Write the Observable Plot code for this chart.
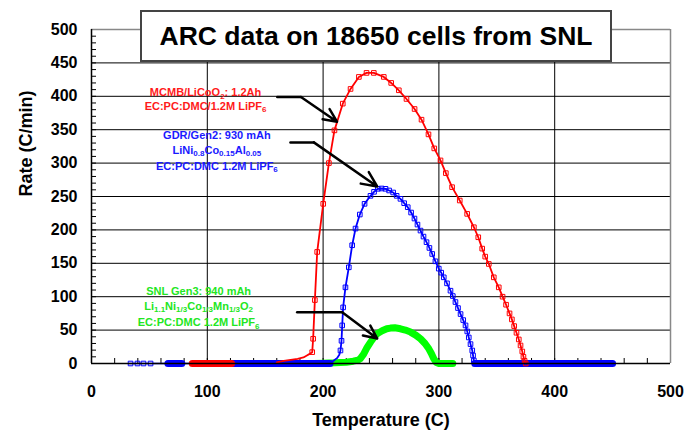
<!DOCTYPE html>
<html><head><meta charset="utf-8">
<script src="https://cdn.jsdelivr.net/npm/d3@7"></script>
<script src="https://cdn.jsdelivr.net/npm/@observablehq/plot@0.6"></script>
<style>
body{margin:0;background:#fff;}
#wrap{position:relative;width:687px;height:434px;font-family:"Liberation Sans",Arial,sans-serif;}
#title{position:absolute;left:140px;top:10px;width:468px;height:48px;border:2px solid #444;background:#fff;font-weight:bold;font-size:26.5px;display:flex;align-items:center;justify-content:center;color:#000;}
</style></head><body>
<div id="wrap"><div id="chart"></div><div id="title">ARC data on 18650 cells from SNL</div></div>
<script>
// ---- ticks ----
const xTicks = [0, 100, 200, 300, 400, 500];
const yTicks = [0, 50, 100, 150, 200, 250, 300, 350, 400, 450, 500];
const xGrid = [100, 200, 300, 400];
const yGrid = [50, 100, 150, 200, 250, 300, 350, 400, 450];
const xMinor = d3.range(20, 500, 20);
const yMinor = d3.range(10, 500, 10);

// ---- red: MCMB/LiCoO2 ----
const redBand = [[87, 121]];
const redPre = [[160, 1.5], [166, 4], [172, 5.5], [178, 7], [183, 9], [186, 12], [188, 14], [190.6, 17]];
const redCurve = [[190.6, 17], [191.4, 37], [192.9, 95], [194.9, 167], [200.1, 239], [205, 300], [209.8, 349], [217, 389], [223.7, 411], [230.9, 429], [237.5, 435], [243.8, 435], [252.4, 429], [258.8, 420], [265.4, 409], [272, 396], [279, 381], [285, 365], [291, 343], [296, 322], [301.4, 304], [306, 285], [311.4, 264], [318, 244], [324.4, 224], [330.2, 204], [334, 189], [337.4, 172], [340, 160], [343.1, 149], [347.4, 129], [351.7, 114], [355, 100], [358, 88], [361, 75], [363, 66], [365, 56], [367, 46], [369, 36], [370.5, 27], [372, 18], [373, 10], [374, 4], [375, 0]];

// ---- blue: GDR/Gen2 ----
const blueLine = [[32, 0], [121, 0]];
const blueLeftMarkers = [[33.7, 0], [39.7, 0], [44.9, 0], [51, 0]];
const blueBands = [[66, 78], [121, 206], [331, 450]];
const bluePre = [[206, 1.5], [209, 4], [212, 8], [214, 13], [215, 19.5]];
const blueCurve = [[215, 19.5], [215.9, 34], [216.5, 57], [217.3, 84], [219.3, 114], [222.2, 144], [225.1, 177], [228, 202], [231.7, 223], [235.8, 239], [240.9, 251], [244, 257], [247.3, 261.5], [250.5, 262], [253.9, 261.5], [257, 259], [260.5, 256], [263.5, 251], [266.8, 246.5], [270, 240], [273.1, 234], [276, 226], [278.9, 217], [281.5, 208], [284.1, 199], [286.7, 190], [289.3, 181.6], [291.8, 173], [294.2, 164], [297, 153], [299.9, 142], [302, 136], [304.2, 129], [307, 120], [310, 109], [312, 101], [314.3, 92], [316.5, 83], [318.7, 74], [321, 65], [323, 57], [324.5, 48], [325.8, 39], [327.3, 29], [328.8, 19.5], [329.5, 12], [330.2, 4.5], [331, 0]];

// ---- green: SNL Gen3 ----
const greenCurve = [[192, 0], [200, 0.5], [210, 1], [220, 2], [226, 3.5], [230, 5], [232, 7], [235, 14], [238, 24], [241, 32], [243.8, 39], [247, 45], [251, 49], [255, 52], [258.2, 53], [262, 53.5], [266.8, 52], [271, 50], [275.5, 47], [280, 42.5], [284.1, 37], [288, 30], [291.3, 22], [293.5, 15], [295.6, 7], [297.8, 1.5], [300, 0], [312, 0]];

// ---- annotations ----
const redLabel = ["MCMB/LiCoO_{2}: 1.2Ah", "EC:PC:DMC/1.2M LiPF_{6}"];
const redLabelPos = [[98.5, 405], [98.5, 385]];
const blueLabel = ["GDR/Gen2: 930 mAh", "LiNi_{0.8}Co_{0.15}Al_{0.05}", "EC:PC:DMC 1.2M LiPF_{6}"];
const blueLabelPos = [[108.3, 341.8], [108.3, 319], [108.3, 295]];
const greenLabel = ["SNL Gen3: 940 mAh", "Li_{1.1}Ni_{1/3}Co_{1/3}Mn_{1/3}O_{2}", "EC:PC:DMC 1.2M LiPF_{6}"];
const greenLabelPos = [[92.5, 108.5], [92.5, 86], [92.5, 61.4]];
const redArrow = [[160.4, 399], [180.9, 399], [212, 362]];
const blueArrow = [[171.8, 331], [192, 331], [246.7, 265]];
const greenArrow = [[177.6, 76.8], [216.5, 76.8], [246.7, 37.4]];

const RED = "#ff0000", BLUE = "#0000ff", GREEN = "#00ff00";

const labelRows = [
  ...redLabel.map((t, i) => ({t, x: redLabelPos[i][0], y: redLabelPos[i][1], c: "#ff1a1a"})),
  ...blueLabel.map((t, i) => ({t, x: blueLabelPos[i][0], y: blueLabelPos[i][1], c: "#1a1aff"})),
  ...greenLabel.map((t, i) => ({t, x: greenLabelPos[i][0], y: greenLabelPos[i][1], c: "#22e622"}))
];

const bandMark = (segs, color) => segs.map(([a, b]) => Plot.line([[a, 0], [b, 0]], {x: d => d[0], y: d => d[1], stroke: color, strokeWidth: 7}));
const arrowMarks = (arr) => [
  Plot.line(arr.slice(0, 2), {x: d => d[0], y: d => d[1], stroke: "#000", strokeWidth: 2.5}),
  Plot.arrow([arr.slice(1)], {x1: d => d[0][0], y1: d => d[0][1], x2: d => d[1][0], y2: d => d[1][1], stroke: "#000", strokeWidth: 2.5, headLength: 10, headAngle: 50})
];
const X = d => d[0], Y = d => d[1];

const chart = Plot.plot({
  width: 687, height: 434,
  marginLeft: 91, marginRight: 17, marginTop: 29, marginBottom: 71,
  style: {fontFamily: "Liberation Sans, Arial, sans-serif", fontSize: "16px", fontWeight: "bold", color: "#000", background: "#fff"},
  x: {domain: [0, 500], ticks: xTicks, tickSize: 0, tickPadding: 22, label: null},
  y: {domain: [0, 500], ticks: yTicks, tickSize: 0, tickPadding: 14, label: null},
  marks: [
    Plot.ruleX(xGrid, {stroke: "#000", strokeWidth: 1}),
    Plot.ruleY(yGrid, {stroke: "#000", strokeWidth: 1}),
    Plot.ruleX([500], {stroke: "#888", strokeWidth: 1.5}),
    Plot.ruleY([500], {stroke: "#888", strokeWidth: 1.5}),
    Plot.ruleX(xMinor, {y1: 0, y2: 0, insetTop: -5, stroke: "#000", strokeWidth: 1}),
    Plot.ruleY(yMinor, {x1: 0, x2: 0, insetRight: -5, stroke: "#000", strokeWidth: 1}),
    // green
    Plot.line(greenCurve, {x: X, y: Y, stroke: GREEN, strokeWidth: 7}),
    // blue
    Plot.line(blueLine, {x: X, y: Y, stroke: BLUE, strokeWidth: 1.5}),
    Plot.dot(blueLeftMarkers, {x: X, y: Y, symbol: "square", r: 2.6, stroke: BLUE, fill: "none", strokeWidth: 1}),
    ...bandMark(blueBands, BLUE),
    Plot.line([...bluePre, ...blueCurve], {x: X, y: Y, stroke: BLUE, strokeWidth: 1.8}),
    Plot.dot(blueCurve, {x: X, y: Y, symbol: "square", r: 2.6, stroke: BLUE, fill: "none", strokeWidth: 1}),
    // red
    ...bandMark(redBand, RED),
    Plot.line([...redPre, ...redCurve], {x: X, y: Y, stroke: RED, strokeWidth: 1.8}),
    Plot.dot(redCurve, {x: X, y: Y, symbol: "square", r: 2.6, stroke: RED, fill: "none", strokeWidth: 1}),
    // axes lines
    Plot.ruleX([0], {stroke: "#000", strokeWidth: 1.5}),
    Plot.ruleY([0], {stroke: "#000", strokeWidth: 1.5}),
    // arrows
    ...arrowMarks(redArrow), ...arrowMarks(blueArrow), ...arrowMarks(greenArrow),
    // labels
    Plot.text(labelRows, {x: "x", y: "y", text: "t", fill: "c", fontSize: 11, fontWeight: "bold", textAnchor: "middle", lineAnchor: "middle"}),
    Plot.text(["Temperature (C)"], {frameAnchor: "bottom", dy: 62, fontSize: 18, fontWeight: "bold", fill: "#000"}),
    Plot.text(["Rate (C/min)"], {frameAnchor: "left", dx: -65, rotate: -90, fontSize: 18, fontWeight: "bold", fill: "#000"})
  ]
});

function applySubs(svg) {
  svg.querySelectorAll("text").forEach(t => {
    const s = t.textContent;
    if (!s.includes("_{")) return;
    while (t.firstChild) t.removeChild(t.firstChild);
    const re = /_\{([^}]*)\}/g; let last = 0, m; const parts = [];
    while ((m = re.exec(s))) {
      if (m.index > last) parts.push([s.slice(last, m.index), false]);
      parts.push([m[1], true]); last = re.lastIndex;
    }
    if (last < s.length) parts.push([s.slice(last), false]);
    let shifted = false;
    for (const [txt, sub] of parts) {
      const ts = document.createElementNS("http://www.w3.org/2000/svg", "tspan");
      ts.textContent = txt;
      if (sub) { ts.setAttribute("font-size", "8"); if (!shifted) { ts.setAttribute("dy", "2.5"); shifted = true; } }
      else if (shifted) { ts.setAttribute("dy", "-2.5"); shifted = false; }
      t.appendChild(ts);
    }
  });
}
applySubs(chart);
document.getElementById("chart").appendChild(chart);
</script>
</body></html>
